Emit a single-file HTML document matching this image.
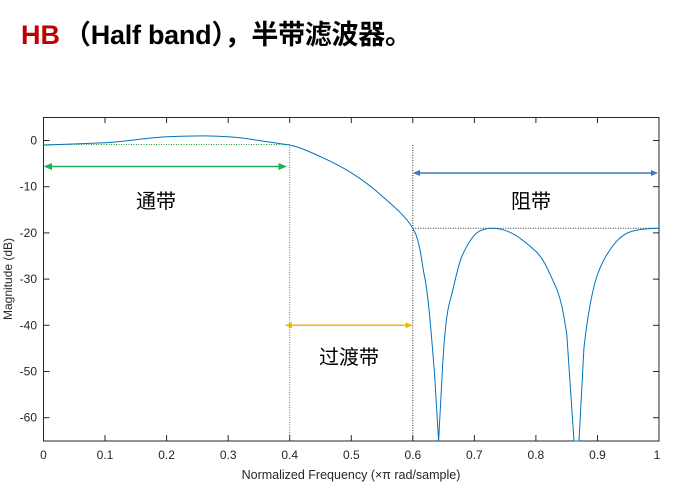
<!DOCTYPE html>
<html><head><meta charset="utf-8"><style>
body{margin:0;background:#fff;width:687px;height:499px;overflow:hidden}
svg{position:absolute;left:0;top:0}
</style></head><body>
<svg width="687" height="499" font-family="Liberation Sans, Noto Sans CJK SC, sans-serif">
<text x="21" y="44" font-size="27" font-weight="bold" fill="#c00000">HB</text>
<text x="64" y="44" font-size="27" font-weight="bold" fill="#000" textLength="348" font-family="Liberation Sans, Noto Sans CJK SC, sans-serif">（Half band），半带滤波器。</text>
<rect x="43.5" y="117.5" width="615.5" height="323.5" fill="none" stroke="#262626" stroke-width="1"/>
<g stroke="#262626" stroke-width="1">
<line x1="105" y1="441" x2="105" y2="435"/><line x1="166.6" y1="441" x2="166.6" y2="435"/><line x1="228.2" y1="441" x2="228.2" y2="435"/><line x1="289.7" y1="441" x2="289.7" y2="435"/><line x1="351.3" y1="441" x2="351.3" y2="435"/><line x1="412.8" y1="441" x2="412.8" y2="435"/><line x1="474.4" y1="441" x2="474.4" y2="435"/><line x1="535.9" y1="441" x2="535.9" y2="435"/><line x1="597.5" y1="441" x2="597.5" y2="435"/>
<line x1="105" y1="117.5" x2="105" y2="123"/><line x1="166.6" y1="117.5" x2="166.6" y2="123"/><line x1="228.2" y1="117.5" x2="228.2" y2="123"/><line x1="289.7" y1="117.5" x2="289.7" y2="123"/><line x1="351.3" y1="117.5" x2="351.3" y2="123"/><line x1="412.8" y1="117.5" x2="412.8" y2="123"/><line x1="474.4" y1="117.5" x2="474.4" y2="123"/><line x1="535.9" y1="117.5" x2="535.9" y2="123"/><line x1="597.5" y1="117.5" x2="597.5" y2="123"/>
<line x1="43.5" y1="140.5" x2="49.5" y2="140.5"/><line x1="43.5" y1="186.7" x2="49.5" y2="186.7"/><line x1="43.5" y1="232.9" x2="49.5" y2="232.9"/><line x1="43.5" y1="279.1" x2="49.5" y2="279.1"/><line x1="43.5" y1="325.3" x2="49.5" y2="325.3"/><line x1="43.5" y1="371.5" x2="49.5" y2="371.5"/><line x1="43.5" y1="417.7" x2="49.5" y2="417.7"/>
<line x1="659" y1="140.5" x2="653" y2="140.5"/><line x1="659" y1="186.7" x2="653" y2="186.7"/><line x1="659" y1="232.9" x2="653" y2="232.9"/><line x1="659" y1="279.1" x2="653" y2="279.1"/><line x1="659" y1="325.3" x2="653" y2="325.3"/><line x1="659" y1="371.5" x2="653" y2="371.5"/><line x1="659" y1="417.7" x2="653" y2="417.7"/>
</g>
<g font-size="12" fill="#262626" text-anchor="end">
<text x="37" y="144.5">0</text><text x="37" y="190.7">-10</text><text x="37" y="236.9">-20</text><text x="37" y="283.1">-30</text><text x="37" y="329.3">-40</text><text x="37" y="375.5">-50</text><text x="37" y="421.7">-60</text>
</g>
<g font-size="12" fill="#262626" text-anchor="middle">
<text x="43.5" y="459">0</text><text x="105" y="459">0.1</text><text x="166.6" y="459">0.2</text><text x="228.2" y="459">0.3</text><text x="289.7" y="459">0.4</text><text x="351.3" y="459">0.5</text><text x="412.8" y="459">0.6</text><text x="474.4" y="459">0.7</text><text x="535.9" y="459">0.8</text><text x="597.5" y="459">0.9</text><text x="657" y="459">1</text>
<text x="351" y="479" font-size="12.5">Normalized Frequency (×π rad/sample)</text>
<text transform="translate(12,279) rotate(-90)" font-size="12">Magnitude (dB)</text>
</g>
<g stroke-dasharray="1,1.5" stroke-width="1" fill="none">
<line x1="43.5" y1="144.5" x2="289.7" y2="144.5" stroke="#1a9e3a"/>
<line x1="289.7" y1="144.5" x2="289.7" y2="441" stroke="#1a9e3a"/>
<line x1="412.8" y1="145" x2="412.8" y2="441" stroke="#333"/>
<line x1="412.8" y1="228.3" x2="659" y2="228.3" stroke="#333"/>
</g>
<path fill="none" stroke="#0072bd" stroke-width="1" d="M43.5,145.1 C70,144 90,143.5 105,142.8 S150,137.5 166.6,136.8 S195,135.9 203.5,135.9 S220,136.3 228.2,136.8 S250,139 259,140.5 S280,143.5 289.7,145.1 S310,152 320.5,156.7 S342,167 351.3,172.8 S372,187 382,196 S405,215 412.8,228.3 S421,260 425,279 S432,345 434.4,371.5 L438.6,441 L442.3,371.5 C444,340 446,315 449.7,302 S458,265 462,256 S470,240 474.4,235.2 S486,228.3 492.8,228.3 S505,230 511.3,232.9 S528,244 535.9,251.4 S548,270 554.4,283.7 S563,310 566.8,334.5 L574,441 L579,441 L583.9,348.4 C587,320 592,290 597.5,274.5 S610,249 615.9,242.1 S628,232 634.4,230.6 S650,228.5 659,228.3"/>
<g stroke-width="1.5">
<line x1="50" y1="166.5" x2="280" y2="166.5" stroke="#1fb155"/>
<polygon points="43.5,166.5 52,163 52,170" fill="#1fb155"/>
<polygon points="287,166.5 278.5,163 278.5,170" fill="#1fb155"/>
<line x1="419" y1="173" x2="651" y2="173" stroke="#3b78c4"/>
<polygon points="412.8,173 420,170 420,176" fill="#3b78c4"/>
<polygon points="658,173 651,170 651,176" fill="#3b78c4"/>
<line x1="292" y1="325.3" x2="406" y2="325.3" stroke="#f2b800"/>
<polygon points="285,325.3 292,322.3 292,328.3" fill="#f2b800"/>
<polygon points="412.5,325.3 405.5,322.3 405.5,328.3" fill="#f2b800"/>
</g>
<g font-size="20" fill="#000">
<text x="136" y="208">通带</text>
<text x="511" y="208">阻带</text>
<text x="319" y="364">过渡带</text>
</g>
</svg>
</body></html>
